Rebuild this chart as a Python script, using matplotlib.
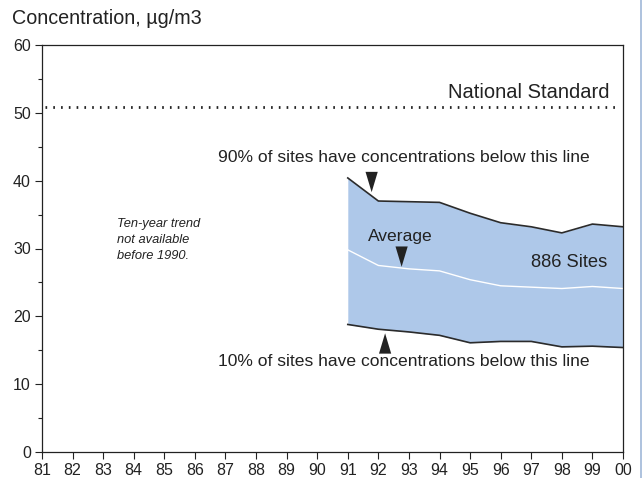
import matplotlib
matplotlib.use("Agg")
import matplotlib.pyplot as plt
from matplotlib.patches import Polygon
from matplotlib.lines import Line2D

plt.rcParams['font.family'] = ['Liberation Sans', 'DejaVu Sans']

years = [91, 92, 93, 94, 95, 96, 97, 98, 99, 100]
p90 = [40.4, 37.0, 36.9, 36.8, 35.2, 33.8, 33.2, 32.3, 33.6, 33.2]
avg = [29.8, 27.5, 27.0, 26.7, 25.4, 24.5, 24.3, 24.1, 24.4, 24.1]
p10 = [18.8, 18.1, 17.7, 17.2, 16.1, 16.3, 16.3, 15.5, 15.6, 15.4]
standard = 50.8
xtick_labels = ["81", "82", "83", "84", "85", "86", "87", "88", "89", "90",
                "91", "92", "93", "94", "95", "96", "97", "98", "99", "00"]

W, H = 642, 478
fig = plt.figure(figsize=(W / 100, H / 100), dpi=100)
ax = fig.add_axes([42 / W, (H - 452) / H, (623 - 42) / W, (452 - 45) / H])
ax.set_xlim(81, 100)
ax.set_ylim(0, 60)

dark = '#2b2b2b'
ax.fill_between(years, p10, p90, color='#aec8e9', lw=0, zorder=1)
ax.plot(years, p90, color=dark, lw=1.2, zorder=2)
ax.plot(years, p10, color=dark, lw=1.2, zorder=2)
ax.plot(years, avg, color='white', lw=1.0, zorder=2)
ax.axhline(standard, xmin=0.005, xmax=0.99, color='#222222', lw=2.0,
           linestyle=(0, (0.6, 2.2)), zorder=2)

# triangles
def tri(x, y_tip, y_base, w=0.2):
    ax.add_patch(Polygon([[x - w, y_base], [x + w, y_base], [x, y_tip]],
                         closed=True, color='#222222', lw=0, zorder=3))

tri(91.78, 38.3, 41.3)
tri(92.76, 27.3, 30.3)
tri(92.22, 17.5, 14.5)

fs = 12.6
ax.text(86.75, 43.4, "90% of sites have concentrations below this line",
        fontsize=fs, color='#222222', va='center', ha='left')
ax.text(86.75, 13.3, "10% of sites have concentrations below this line",
        fontsize=fs, color='#222222', va='center', ha='left')
ax.text(92.73, 31.7, "Average", fontsize=fs, color='#222222', va='center', ha='center')
ax.text(98.25, 28.0, "886 Sites", fontsize=13.2, color='#222222', va='center', ha='center')
ax.text(99.57, 53.0, "National Standard", fontsize=14.5, color='#222222',
        va='center', ha='right')
ax.text(83.45, 31.3, "Ten-year trend\nnot available\nbefore 1990.", fontsize=9.3,
        style='italic', color='#222222', va='center', ha='left', linespacing=1.45)

fig.text(12 / W, 1 - 18 / H, "Concentration, µg/m3", fontsize=14.2,
         color='#222222', va='center', ha='left')

ax.set_xticks(range(81, 101))
ax.set_xticklabels(xtick_labels)
ax.set_yticks(range(0, 61, 10))
ax.set_yticks(range(5, 60, 10), minor=True)
ax.tick_params(axis='both', which='major', direction='out', length=5, width=0.8,
               labelsize=11.5, colors='#222222', pad=3)
ax.tick_params(axis='y', which='minor', direction='out', length=3, width=0.8,
               colors='#222222')
for s in ax.spines.values():
    s.set_linewidth(0.9)
    s.set_color('#222222')

fig.add_artist(Line2D([640.5 / W, 640.5 / W], [0, 1], transform=fig.transFigure,
                      color='#9fb8d8', lw=1.2))

fig.savefig("out.png", dpi=100)
